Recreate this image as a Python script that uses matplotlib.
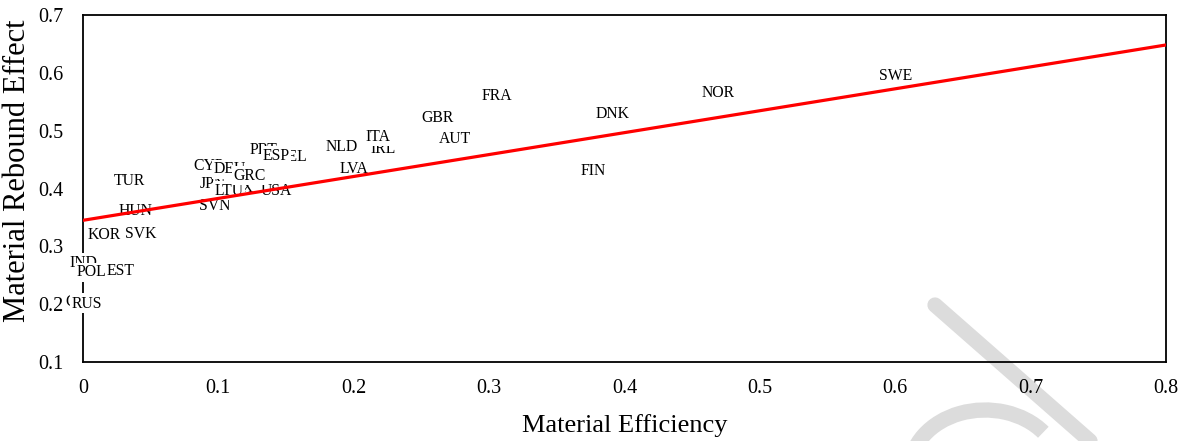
import numpy as np
import matplotlib
matplotlib.use('Agg')
import matplotlib.pyplot as plt
from matplotlib.lines import Line2D
from matplotlib.patches import Arc

plt.rcParams['font.family'] = ['Liberation Serif', 'DejaVu Serif']

# country labels, drawn in this order (later ones cover earlier ones)
countries = ['CHN', 'RUS', 'IND', 'POL', 'EST', 'KOR', 'SVK', 'HUN', 'TUR',
             'SVN', 'LUX', 'JPN', 'LTU', 'USA', 'CYP', 'DEU', 'GRC',
             'PRT', 'BEL', 'ESP', 'NLD', 'LVA', 'IRL', 'ITA',
             'GBR', 'AUT', 'FRA', 'FIN', 'DNK', 'NOR', 'SWE']
efficiency = [-0.001, 0.003, 0.000, 0.006, 0.028, 0.016, 0.043, 0.039, 0.034,
              0.0975, 0.114, 0.096, 0.108, 0.1425, 0.093, 0.1085, 0.123,
              0.133, 0.155, 0.1425, 0.191, 0.200, 0.222, 0.218,
              0.262, 0.275, 0.306, 0.377, 0.391, 0.469, 0.600]
rebound = [0.203, 0.201, 0.272, 0.255, 0.257, 0.319, 0.321, 0.361, 0.413,
           0.369, 0.401, 0.407, 0.396, 0.395, 0.439, 0.433, 0.422,
           0.466, 0.455, 0.457, 0.471, 0.433, 0.468, 0.489,
           0.522, 0.485, 0.560, 0.430, 0.528, 0.565, 0.594]

# linear trend line
intercept = 0.345
slope = 0.379

fig = plt.figure(figsize=(11.81, 4.41), dpi=100, facecolor='white')
ax = fig.add_axes([83 / 1181, 1 - 362 / 441, (1166 - 83) / 1181, (362 - 15) / 441])
ax.patch.set_alpha(0)

# faint watermark stroke behind the chart
fig.add_artist(Line2D([935 / 1181, 1090 / 1181], [1 - 305 / 441, 1 - 441 / 441],
                      color='#dcdcdc', lw=11, solid_capstyle='round', zorder=-1))
fig.add_artist(Arc((985 / 1181, 1 - 470 / 441), 150 / 1181, 120 / 441,
                   theta1=60, theta2=180, color='#dcdcdc', lw=11, zorder=-1))

xs = np.array([0, 0.8])
ax.plot(xs, intercept + slope * xs, color='#ff0000', lw=2.3, zorder=4)

for name, x, y in zip(countries, efficiency, rebound):
    ax.text(x, y, name, ha='center', va='center', fontsize=11.3, zorder=3,
            bbox=dict(facecolor='white', edgecolor='none', pad=1.0))

ax.set_xlim(0, 0.8)
ax.set_ylim(0.1, 0.7)
ax.set_xticks(np.arange(0, 0.81, 0.1))
ax.set_xticklabels(['0', '0.1', '0.2', '0.3', '0.4', '0.5', '0.6', '0.7', '0.8'])
ax.set_yticks(np.arange(0.1, 0.71, 0.1))
ax.set_yticklabels(['0.1', '0.2', '0.3', '0.4', '0.5', '0.6', '0.7'])
ax.tick_params(length=0, labelsize=14.5)
ax.tick_params(axis='x', pad=12)
ax.tick_params(axis='y', pad=14)
for s in ax.spines.values():
    s.set_linewidth(1.3)
    s.set_zorder(2)

ax.set_xlabel('Material Efficiency', fontsize=19)
ax.xaxis.set_label_coords(0.5, -0.150)
ax.set_ylabel('Material Rebound Effect', fontsize=22)
ax.yaxis.set_label_coords(-0.047, 0.55)

fig.savefig('out.png', dpi=100, facecolor='white')
